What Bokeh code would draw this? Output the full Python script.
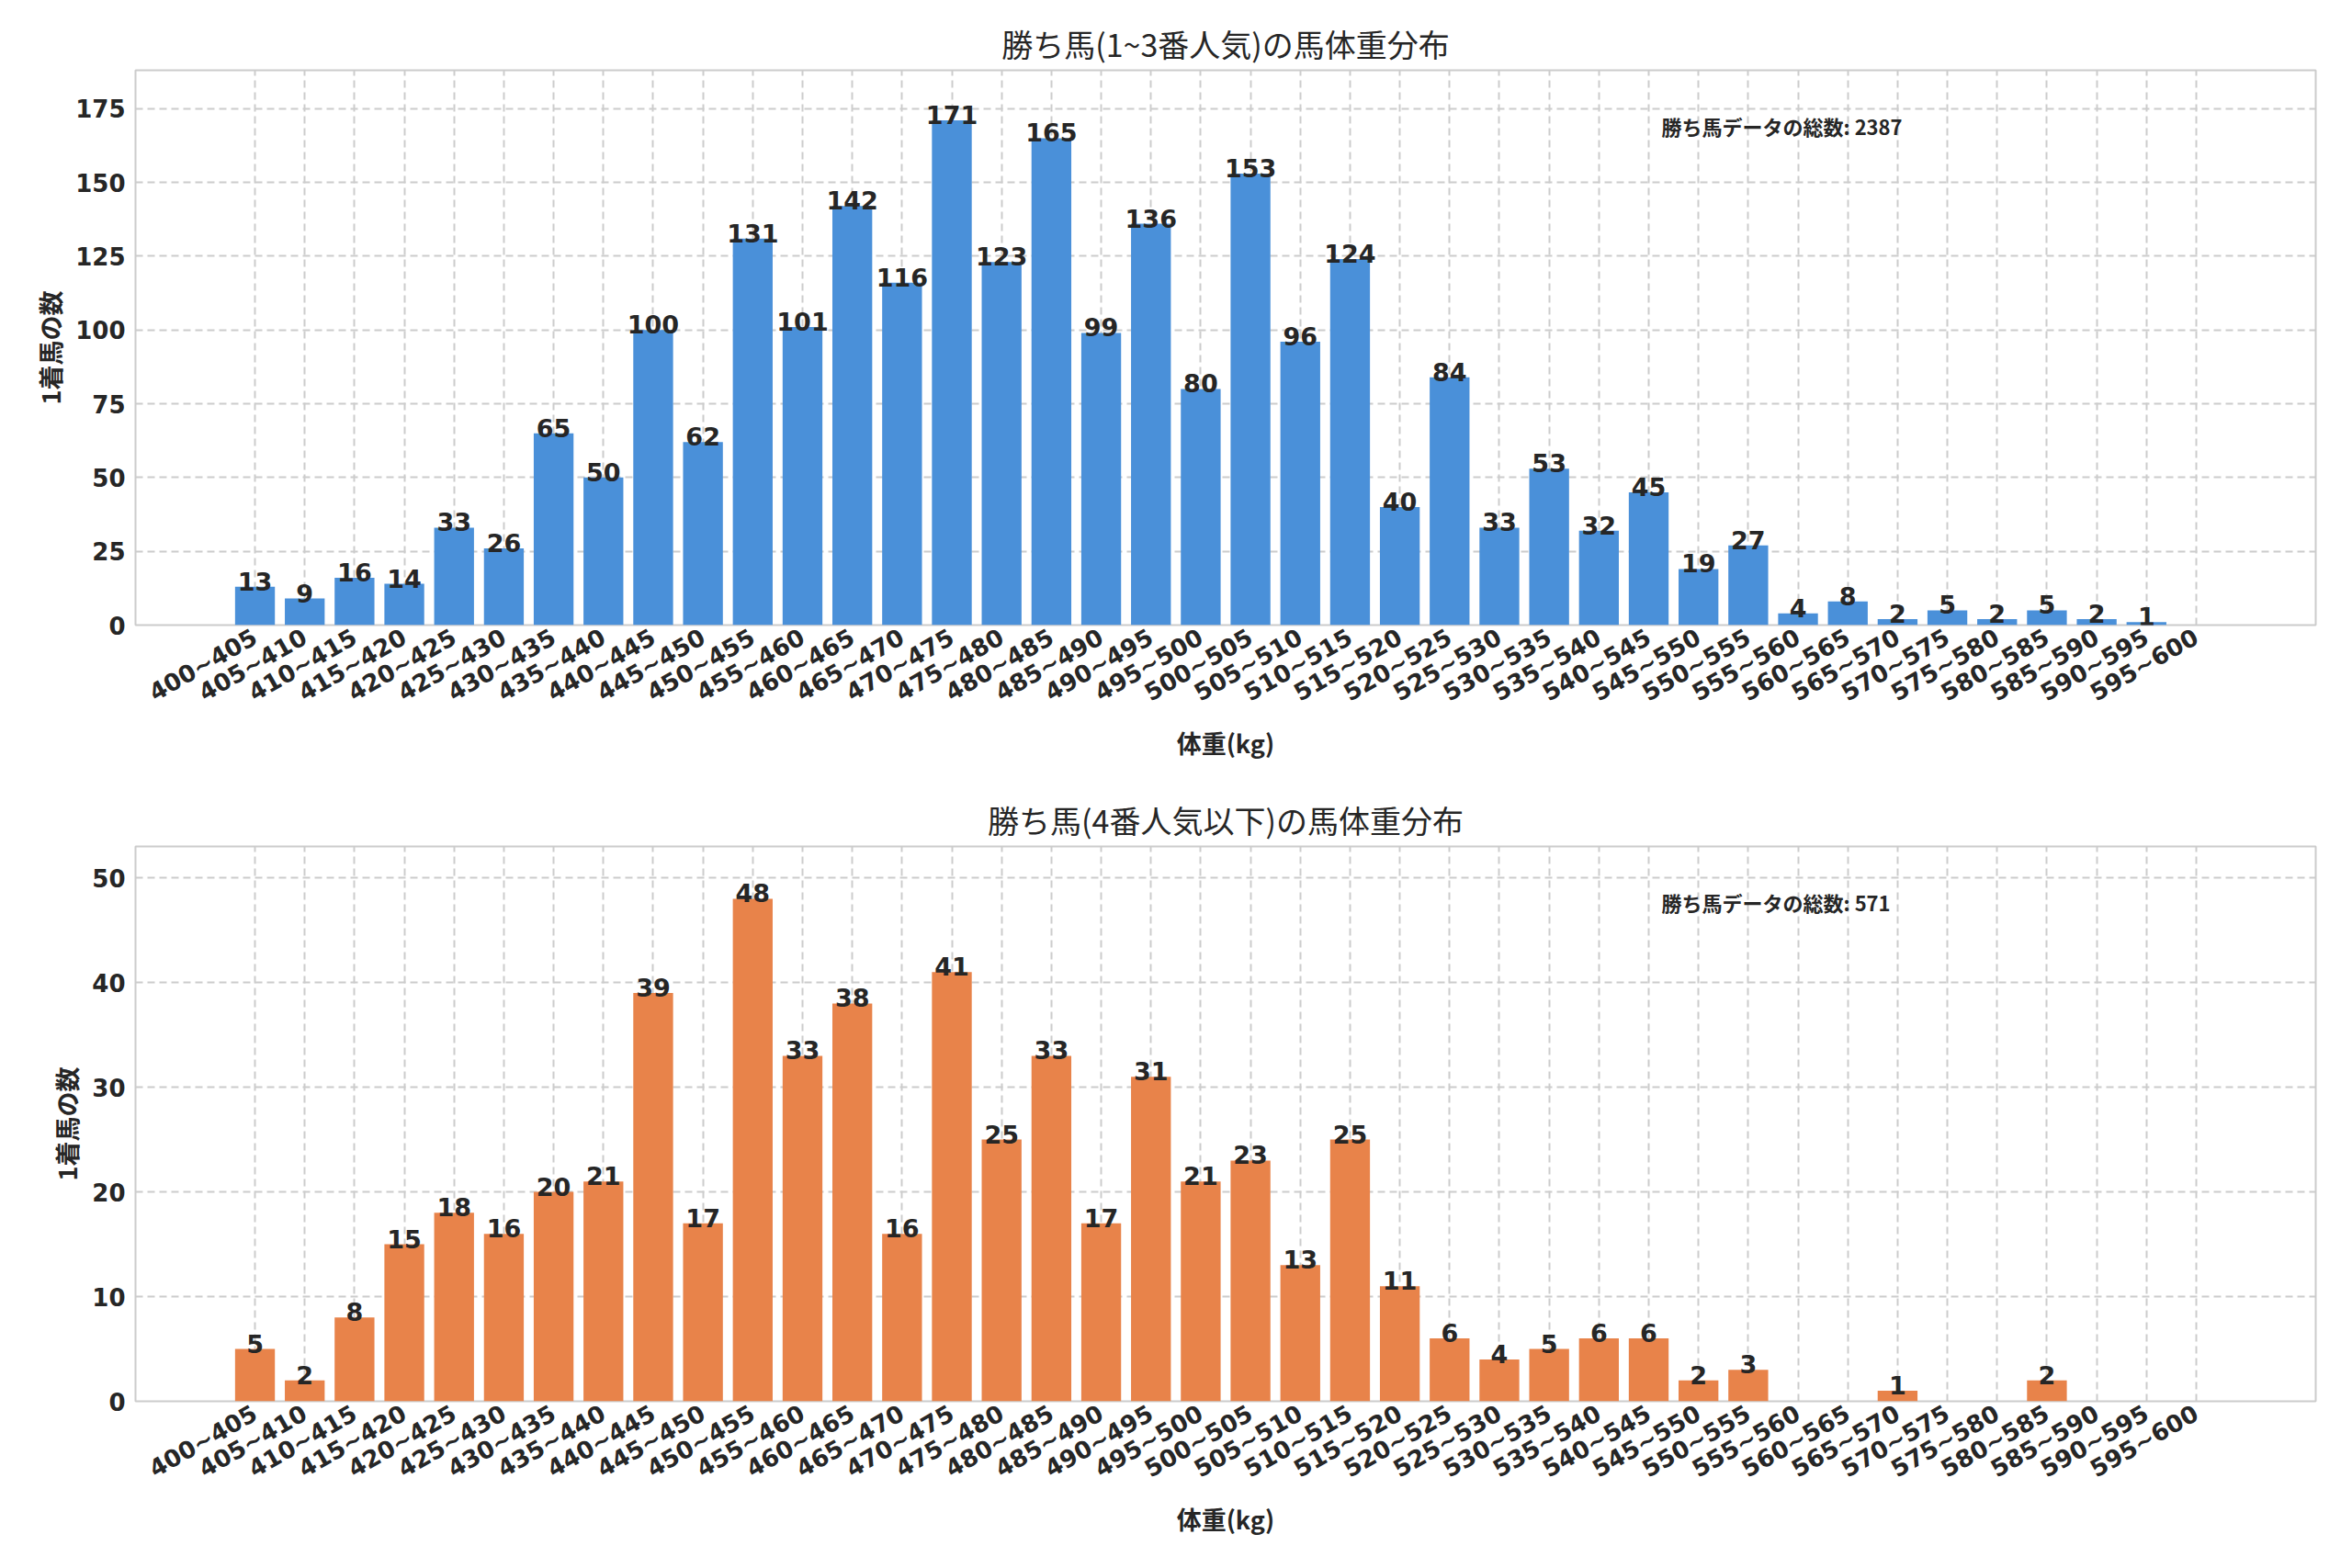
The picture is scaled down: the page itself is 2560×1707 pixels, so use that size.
from bokeh.plotting import figure
from bokeh.layouts import column
from bokeh.models import FactorRange, Range1d, Label, ColumnDataSource
from bokeh.core.properties import value
from bokeh.embed import file_html
from bokeh.resources import INLINE

bins = [f"{a}~{a+5}" for a in range(400, 600, 5)]
top_counts = [13,9,16,14,33,26,65,50,100,62,131,101,142,116,171,123,165,99,136,80,
              153,96,124,40,84,33,53,32,45,19,27,4,8,2,5,2,5,2,1,0]
bottom_counts = [5,2,8,15,18,16,20,21,39,17,48,33,38,16,41,25,33,17,31,21,
                 23,13,25,11,6,4,5,6,6,2,3,0,0,1,0,0,2,0,0,0]
top_title = "勝ち馬(1~3番人気)の馬体重分布"
bottom_title = "勝ち馬(4番人気以下)の馬体重分布"
top_note = "勝ち馬データの総数: 2387"
bottom_note = "勝ち馬データの総数: 571"
xlabel = "体重(kg)"
ylabel = "1着馬の数"

NUM = "DejaVu Sans"
JP = "Noto Sans CJK JP"

def make(counts, color, title, note, ymax, yticks):
    p = figure(x_range=FactorRange(*bins, range_padding=0.095, range_padding_units="percent"),
               y_range=Range1d(0, ymax), width=2544, height=845,
               output_backend="svg", toolbar_location=None,
               min_border_left=147, min_border_right=24, min_border_top=76, min_border_bottom=165)
    p.title.text = title
    p.title.align = "center"
    p.title.text_font = JP
    p.title.text_font_style = "normal"
    p.title.text_font_size = "34px"
    p.title.text_color = "#262626"
    src = ColumnDataSource(dict(x=bins, y=counts, t=[str(c) if c > 0 else "" for c in counts]))
    p.vbar(x="x", top="y", width=0.8, source=src, color=color, line_color=None)
    p.text(x="x", y="y", text="t", source=src, text_align="center", text_baseline="bottom",
           text_font=value(NUM), text_font_style="bold", text_font_size="27px", text_color="#262626",
           y_offset=4)
    p.yaxis.ticker = yticks
    p.xaxis.major_label_orientation = 0.52
    for ax in (p.xaxis, p.yaxis):
        ax.major_label_text_font = NUM
        ax.major_label_text_font_style = "bold"
        ax.major_label_text_font_size = "26px"
        ax.major_label_text_color = "#262626"
        ax.axis_line_color = None
        ax.major_tick_line_color = None
        ax.minor_tick_line_color = None
        ax.axis_label_text_font = JP
        ax.axis_label_text_font_style = "bold"
        ax.axis_label_text_font_size = "27px"
        ax.axis_label_text_color = "#262626"
    p.xaxis.axis_label = xlabel
    p.xaxis.axis_label_standoff = 4
    p.yaxis.axis_label = ylabel
    for g in (p.xgrid, p.ygrid):
        g.grid_line_color = "#cccccc"
        g.grid_line_dash = "8 5"
        g.grid_line_width = 2
    p.outline_line_color = "#cccccc"
    p.outline_line_width = 2
    p.background_fill_color = "white"
    p.add_layout(Label(x=1661, y=528, x_units="screen", y_units="screen", text=note,
                       text_font=JP, text_font_style="bold", text_font_size="22px",
                       text_color="#262626"))
    return p

p1 = make(top_counts, "#4a90d9", top_title, top_note, 188, list(range(0, 176, 25)))
p2 = make(bottom_counts, "#e8834a", bottom_title, bottom_note, 53, list(range(0, 51, 10)))
p = column(p1, p2)
open("out.html", "w").write(file_html(p, INLINE))
